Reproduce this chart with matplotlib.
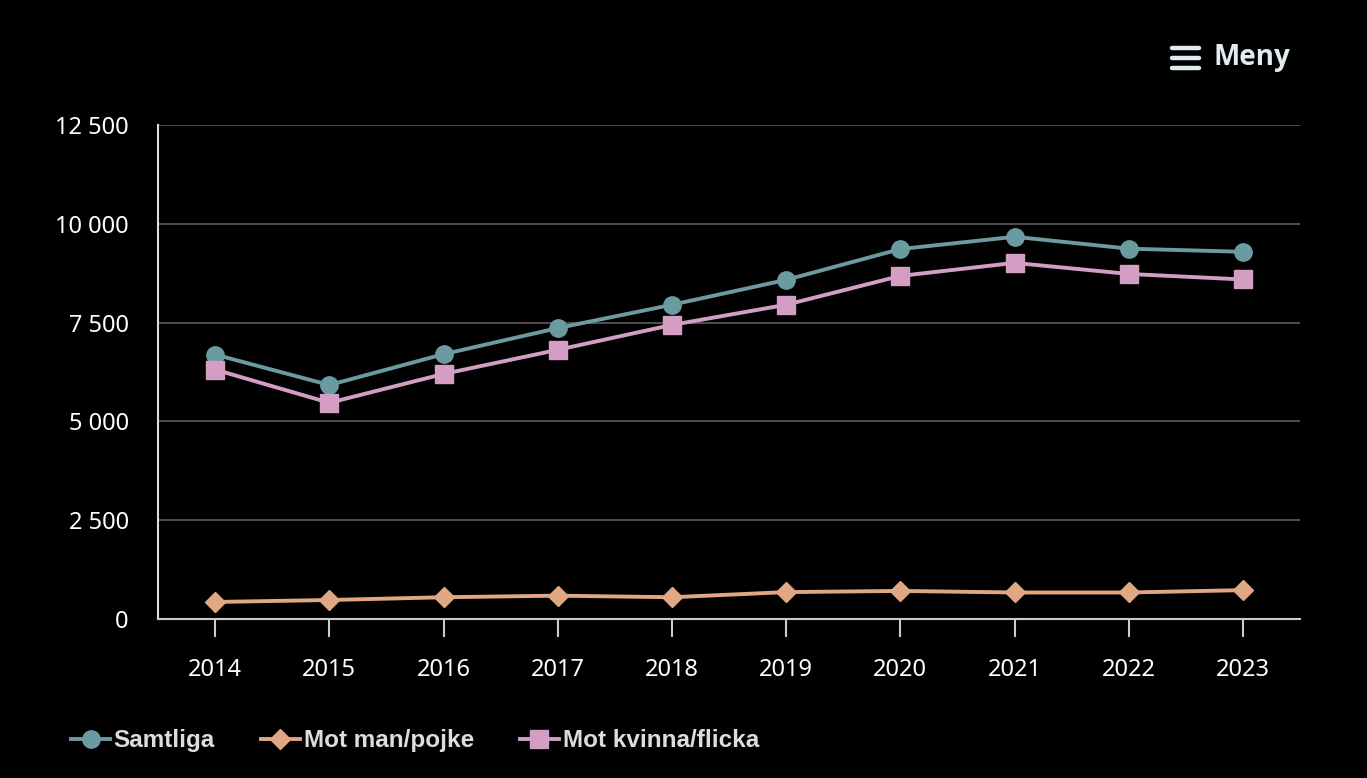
import matplotlib
matplotlib.use("Agg")
import matplotlib.pyplot as plt
from matplotlib.lines import Line2D
from matplotlib.ticker import FuncFormatter

# data
YEARS = [2014, 2015, 2016, 2017, 2018, 2019, 2020, 2021, 2022, 2023]
SAMTLIGA = [6690, 5920, 6700, 7360, 7950, 8580, 9360, 9670, 9370, 9290]
MOT_MAN = [430, 480, 550, 590, 550, 680, 710, 670, 670, 730]
MOT_KVINNA = [6310, 5470, 6200, 6810, 7440, 7950, 8680, 9010, 8730, 8590]
YTICKS = [0, 2500, 5000, 7500, 10000, 12500]

C_SAM = "#6A9BA0"
C_MAN = "#E0A882"
C_KVI = "#D49DC4"
BG = "#000000"

fig = plt.figure(figsize=(13.67, 7.78), dpi=100, facecolor=BG)
ax = fig.add_axes([0.1156, 0.2044, 0.8354, 0.635], facecolor=BG)

ax.plot(YEARS, SAMTLIGA, color=C_SAM, lw=2.8, marker="o", ms=12.5, zorder=3, label="Samtliga")
ax.plot(YEARS, MOT_MAN, color=C_MAN, lw=2.8, marker="D", ms=10, zorder=3, label="Mot man/pojke")
ax.plot(YEARS, MOT_KVINNA, color=C_KVI, lw=2.8, marker="s", ms=12.5, zorder=3, label="Mot kvinna/flicka")

ax.set_xlim(2013.5, 2023.5)
ax.set_ylim(0, 12500)
ax.set_yticks(YTICKS)
ax.yaxis.set_major_formatter(FuncFormatter(lambda v, p: f"{int(v):,}".replace(",", " ")))
ax.set_xticks(YEARS)
ax.grid(axis="y", color="#555555", lw=1.3)
ax.set_axisbelow(True)

for s in ["top", "right"]:
    ax.spines[s].set_visible(False)
ax.spines["left"].set_color("#dddddd")
ax.spines["left"].set_linewidth(1.5)
ax.spines["bottom"].set_color("#cccccc")
ax.spines["bottom"].set_linewidth(1.5)

ax.tick_params(axis="y", length=0, pad=21, labelsize=17, labelcolor="white")
ax.tick_params(axis="x", length=13, width=1.5, color="#cccccc", pad=15,
               labelsize=17, labelcolor="white")
for lbl in ax.get_xticklabels() + ax.get_yticklabels():
    lbl.set_fontfamily("Noto Sans")

leg = fig.legend(loc="lower left", bbox_to_anchor=(0.036, 0.005), ncol=3, frameon=False,
                 handlelength=1.6, handletextpad=0.15, columnspacing=1.9,
                 prop={"family": "Liberation Sans", "weight": "bold", "size": 17.5})
for t in leg.get_texts():
    t.set_color("#dddddd")

# "Meny" button top right
for yy in [0.938, 0.925, 0.912]:
    fig.add_artist(Line2D([0.857, 0.877], [yy, yy], color="#E0ECEF", lw=3.2,
                          solid_capstyle="round", transform=fig.transFigure))
fig.text(0.888, 0.926, "Meny", color="#E0ECEF", fontsize=20, fontweight="bold",
         family="Open Sans", va="center", ha="left")

fig.savefig("out.png", dpi=100, facecolor=BG)
